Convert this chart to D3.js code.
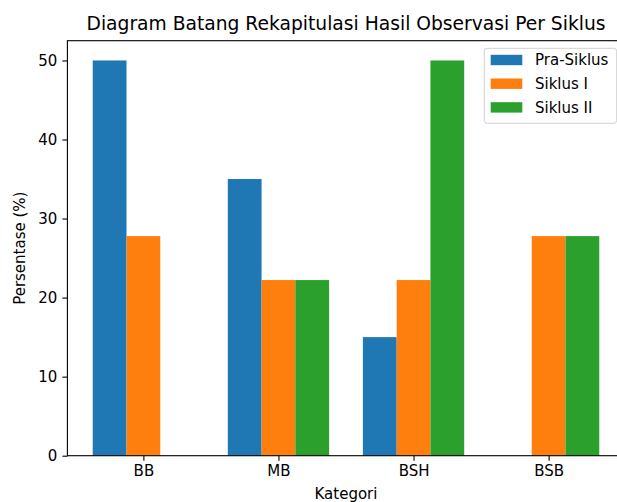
<!DOCTYPE html>
<html>
<head>
<meta charset="utf-8">
<script src="https://cdn.jsdelivr.net/npm/d3@7"></script>
<style>
  body { margin: 0; background: #fff; }
  svg { display: block; font-family: "DejaVu Sans", sans-serif; }
</style>
</head>
<body>
<div id="chart"></div>
<script>
// data
const categories = ["BB", "MB", "BSH", "BSB"];
const seriesNames = ["Pra-Siklus", "Siklus I", "Siklus II"];
const praSiklus = [50, 35, 15, 0];
const siklus1 = [27.78, 22.22, 22.22, 27.78];
const siklus2 = [0, 22.22, 50, 27.78];
const yTicks = [0, 10, 20, 30, 40, 50];
const colors = ["#1f77b4", "#ff7f0e", "#2ca02c"];

const series = [praSiklus, siklus1, siklus2];

const width = 617, height = 502;
const margin = { top: 40.7, right: -7.6, bottom: 46.3, left: 67.4 };
const barW = 0.25;

const svg = d3.select("#chart").append("svg")
  .attr("width", width).attr("height", height);

// scales (matplotlib-like auto limits)
const xScale = d3.scaleLinear()
  .domain([-0.5625, categories.length - 1 + 0.5625])
  .range([margin.left, width - margin.right]);
const yScale = d3.scaleLinear()
  .domain([0, 52.5])
  .range([height - margin.bottom, margin.top]);

// bars
series.forEach((vals, si) => {
  svg.append("g")
    .selectAll("rect")
    .data(vals)
    .join("rect")
    .attr("x", (d, i) => xScale(i + (si - 1) * barW - barW / 2))
    .attr("width", xScale(barW) - xScale(0))
    .attr("y", d => yScale(d))
    .attr("height", d => yScale(0) - yScale(d))
    .attr("fill", colors[si]);
});

// axes
const xAxis = d3.axisBottom(xScale)
  .tickValues(d3.range(categories.length))
  .tickFormat(i => categories[i])
  .tickSize(5).tickPadding(5);
const yAxis = d3.axisLeft(yScale)
  .tickValues(yTicks)
  .tickSize(5).tickPadding(5);

const gx = svg.append("g")
  .attr("transform", `translate(0,${height - margin.bottom})`)
  .call(xAxis);
const gy = svg.append("g")
  .attr("transform", `translate(${margin.left},0)`)
  .call(yAxis);
[gx, gy].forEach(g => {
  g.select(".domain").remove();
  g.selectAll("text").attr("font-size", 15).attr("fill", "#000")
    .attr("font-family", "DejaVu Sans, sans-serif");
  g.selectAll("line").attr("stroke", "#000").attr("stroke-width", 1.1);
});

// spines
svg.append("rect")
  .attr("x", margin.left).attr("y", margin.top)
  .attr("width", xScale.range()[1] - margin.left)
  .attr("height", yScale(0) - margin.top)
  .attr("fill", "none").attr("stroke", "#000").attr("stroke-width", 1.1);

// title and labels
svg.append("text")
  .attr("x", (margin.left + xScale.range()[1]) / 2).attr("y", 30)
  .attr("text-anchor", "middle").attr("font-size", 18.7)
  .text("Diagram Batang Rekapitulasi Hasil Observasi Per Siklus");
svg.append("text")
  .attr("x", (margin.left + xScale.range()[1]) / 2).attr("y", 499)
  .attr("text-anchor", "middle").attr("font-size", 15)
  .text("Kategori");
svg.append("text")
  .attr("transform", `translate(25,${(margin.top + yScale(0)) / 2}) rotate(-90)`)
  .attr("text-anchor", "middle").attr("font-size", 15)
  .text("Persentase (%)");

// legend
const legend = svg.append("g").attr("transform", "translate(484.3,48.3)");
legend.append("rect")
  .attr("width", 132.4).attr("height", 75).attr("rx", 3)
  .attr("fill", "#fff").attr("fill-opacity", 0.8)
  .attr("stroke", "#d0d0d0").attr("stroke-width", 1);
seriesNames.forEach((name, i) => {
  const row = legend.append("g").attr("transform", `translate(0,${11.7 + i * 23.7})`);
  row.append("rect")
    .attr("x", 6.4).attr("y", -5.2).attr("width", 31.6).attr("height", 10.4)
    .attr("fill", colors[i]);
  row.append("text")
    .attr("x", 50.7).attr("y", 5.3).attr("font-size", 15)
    .text(name);
});
</script>
</body>
</html>
